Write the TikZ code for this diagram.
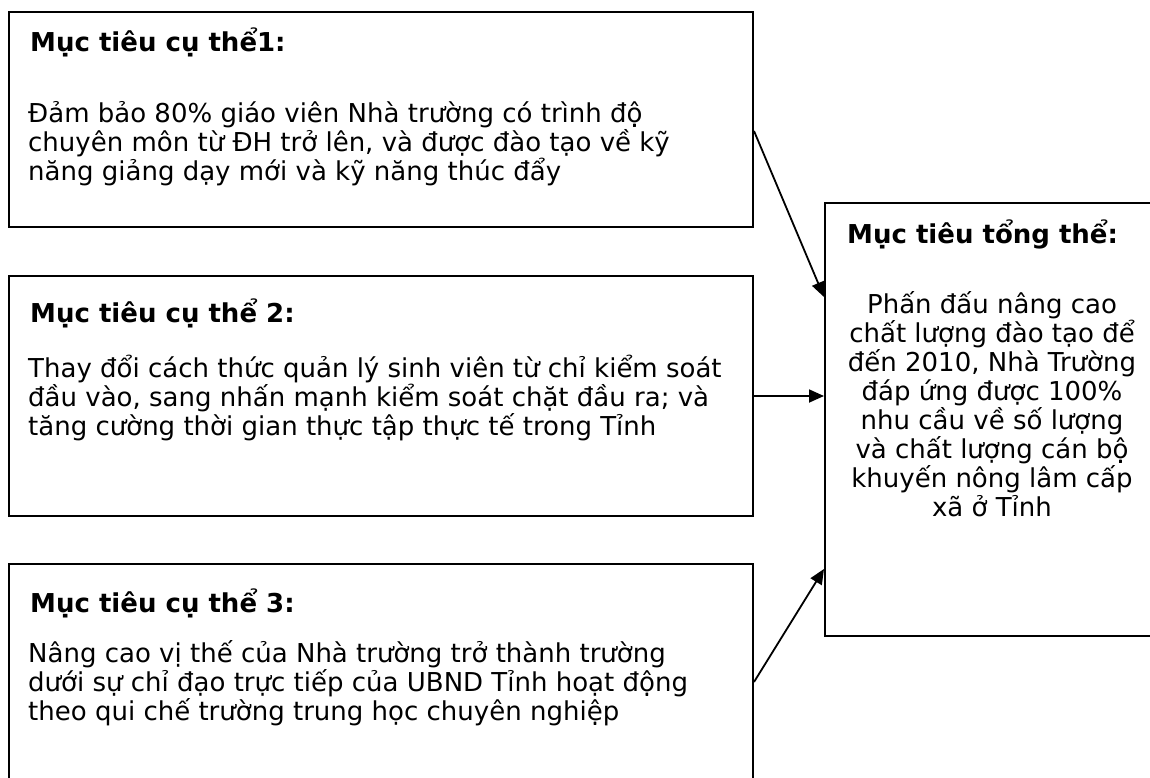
\documentclass[tikz,border=0pt]{standalone}
\usepackage{fontspec}
\setmainfont{DejaVu Sans}
\usetikzlibrary{arrows.meta}
\begin{document}
\begin{tikzpicture}[x=1bp,y=-1bp,
  box/.style={draw,line width=2bp,rectangle,inner sep=0pt},
  title/.style={anchor=base west,inner sep=0pt,font=\fontsize{26bp}{29bp}\selectfont\bfseries},
  body/.style={anchor=base west,inner sep=0pt,align=left,font=\fontsize{26bp}{29bp}\selectfont},
  link/.style={line width=1.8bp,-{Triangle[length=15bp,width=13bp]}}]
\useasboundingbox (0,0) rectangle (1150,778);
\clip (0,0) rectangle (1150,778);
% goal boxes
\node[box,minimum width=744bp,minimum height=215bp] (b1) at (381,119.5) {};
\node[box,minimum width=744bp,minimum height=240bp] (b2) at (381,396) {};
\node[box,minimum width=744bp,minimum height=240bp] (b3) at (381,684) {};
\node[box,minimum width=340bp,minimum height=433bp] (b4) at (995,419.5) {};
% texts of the specific goals (body nodes sit on their last baseline)
\node[title] (t1) at (30,52) {Mục tiêu cụ thể1:};
\node[body] (d1) at (28,180) {Đảm bảo 80\% giáo viên Nhà trường có trình độ\\chuyên môn từ ĐH trở lên, và được đào tạo về kỹ\\năng giảng dạy mới và kỹ năng thúc đẩy};
\node[title] (t2) at (30,322) {Mục tiêu cụ thể 2:};
\node[body] (d2) at (28,435) {Thay đổi cách thức quản lý sinh viên từ chỉ kiểm soát\\đầu vào, sang nhấn mạnh kiểm soát chặt đầu ra; và\\tăng cường thời gian thực tập thực tế trong Tỉnh};
\node[title] (t3) at (30,612) {Mục tiêu cụ thể 3:};
\node[body] (d3) at (28,720) {Nâng cao vị thế của Nhà trường trở thành trường\\dưới sự chỉ đạo trực tiếp của UBND Tỉnh hoạt động\\theo qui chế trường trung học chuyên nghiệp};
% overall goal
\node[title] (t4) at (847,243) {Mục tiêu tổng thể:};
\node[body,anchor=base,align=center] (d4) at (992,516) {Phấn đấu nâng cao\\chất lượng đào tạo để\\đến 2010, Nhà Trường\\đáp ứng được 100\%\\nhu cầu về số lượng\\và chất lượng cán bộ\\khuyến nông lâm cấp\\xã ở Tỉnh};
% connectors
\draw[link] ([yshift=-120bp]b1.north east) -- ([yshift=-95bp]b4.north west);
\draw[link] (b2.east) -- (b2.east -| b4.west);
\draw[link] ([yshift=-119bp]b3.north east) -- ([yshift=-367bp]b4.north west);
\end{tikzpicture}
\end{document}
